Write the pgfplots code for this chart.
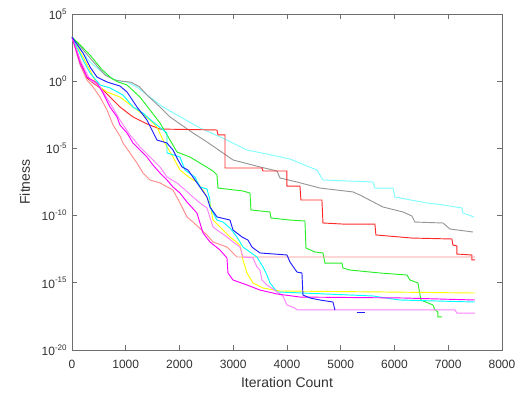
\documentclass[border=0pt]{standalone}
\usepackage{fontspec}
\setmainfont{Liberation Sans}
\usepackage{pgfplots}
\pgfplotsset{compat=1.18}
\definecolor{cLC}{RGB}{128,255,255}
\definecolor{cGR}{RGB}{150,150,150}
\definecolor{cR}{RGB}{255,40,40}
\definecolor{cG}{RGB}{40,240,40}
\definecolor{cSA}{RGB}{255,140,140}
\definecolor{cY}{RGB}{255,255,0}
\definecolor{cB}{RGB}{30,30,255}
\definecolor{cC}{RGB}{0,255,255}
\definecolor{cM}{RGB}{255,0,255}
\definecolor{cP}{RGB}{255,128,255}
\definecolor{axc}{RGB}{110,110,110}
\definecolor{txc}{RGB}{50,50,50}
\begin{document}
\begin{tikzpicture}
\useasboundingbox (-54pt,-35.25pt) rectangle (339pt,262.5pt);
\begin{axis}[
  at={(0,0)}, anchor=south west,
  width=322.5pt, height=252pt, scale only axis,
  xmin=0, xmax=8000, ymin=-20, ymax=5,
  xtick={0,1000,...,8000},
  ytick={-20,-15,-10,-5,0,5},
  yticklabels={10\textsuperscript{-20},10\textsuperscript{-15},10\textsuperscript{-10},10\textsuperscript{-5},10\textsuperscript{0},10\textsuperscript{5}},
  scaled x ticks=false,
  /pgf/number format/1000 sep={},
  /pgf/number format/assume math mode=true,
  tick label style={font=\fontsize{9}{10}\selectfont, text=txc},
  xticklabel style={yshift=-4pt},
  label style={font=\fontsize{10.5}{12}\selectfont, text=txc},
  xlabel={Iteration Count},
  ylabel={Fitness},
  axis line style={axc},
  tick style={axc, line width=0.5pt},
  major tick length=3.5pt,
  minor tick num=0,
  every axis plot/.append style={line width=0.7pt},
  xlabel style={yshift=0pt},
  ylabel style={yshift=2pt},
]
% light cyan
\addplot[cLC] table[x=X,y=L]{
X L
0 3.29
150 2.4
335 1.43
577 0.61
763 0.15
900 0.0
1023 -0.06
1209 -0.43
1451 -1.18
1693 -1.92
1953 -2.51
2381 -3.48
2883 -4.375
3255 -5.12
3627 -5.42
4055 -5.79
4371 -6.31
4557 -6.61
4669 -7.35
5599 -7.5
5636 -7.95
5971 -7.95
6008 -8.62
6603 -9.06
6901 -9.21
7254 -9.43
7273 -9.81
7477 -10.1
};
% gray
\addplot[cGR] table[x=X,y=L]{
X L
0 3.29
150 2.6
335 1.73
614 0.46
800 0.08
950 -0.01
1100 -0.08
1250 -0.4
1395 -1.03
1637 -1.92
1823 -2.66
2251 -3.85
2511 -4.52
2809 -5.34
2995 -5.86
3497 -6.38
3813 -6.68
3869 -7.2
4185 -7.5
4613 -7.95
5227 -8.24
5357 -8.47
5785 -9.36
6157 -9.73
6324 -10.03
6380 -10.48
6901 -10.55
7031 -11.0
7459 -11.22
};
% red
\addplot[cR] table[x=X,y=L]{
X L
0 3.29
149 1.58
279 0.24
391 -0.13
577 -0.65
893 -1.92
1135 -2.66
1395 -3.18
1637 -3.56
2697 -3.63
2716 -4.0
2846 -4.0
2846 -6.46
3534 -6.46
3553 -6.68
3999 -6.68
3999 -7.8
4241 -7.8
4259 -8.84
4650 -8.84
4669 -10.55
5041 -10.63
5636 -10.63
5654 -11.44
6324 -11.67
7068 -11.74
7087 -12.19
7161 -12.26
7161 -12.86
7440 -12.93
7440 -13.3
7496 -13.3
};
% green
\addplot[cG] table[x=X,y=L]{
X L
0 3.29
150 2.7
335 1.95
550 0.9
707 0.31
850 -0.05
1023 -0.28
1265 -1.18
1451 -2.14
1637 -3.11
1823 -4.375
1953 -5.27
2195 -5.64
2381 -6.09
2623 -6.68
2697 -6.98
2716 -7.95
3181 -8.17
3311 -8.32
3329 -9.58
3683 -9.73
3702 -10.18
4055 -10.33
4334 -10.4
4353 -12.41
4520 -12.71
4669 -12.78
4706 -13.53
5022 -13.53
5041 -13.9
5171 -14.05
5729 -14.27
6231 -14.42
6287 -14.79
6436 -15.01
6492 -16.28
6715 -16.65
6752 -17.02
6808 -17.17
6808 -17.54
6882 -17.54
};
% salmon
\addplot[cSA] table[x=X,y=L]{
X L
0 3.29
149 1.21
279 0.09
391 -0.43
521 -1.18
651 -2.14
763 -3.26
893 -4.08
949 -4.6
1079 -5.34
1209 -6.09
1321 -6.83
1451 -7.35
1637 -7.57
1879 -8.1
2009 -9.06
2139 -10.1
2251 -10.48
2511 -11.44
2623 -11.96
2883 -12.34
2976 -12.71
3069 -13.08
7496 -13.08
};
% yellow
\addplot[cY] table[x=X,y=L]{
X L
0 3.29
335 0.83
465 -0.28
651 -0.8
893 -1.18
1209 -2.14
1451 -2.89
1581 -3.41
1693 -4.375
1879 -5.64
2009 -6.61
2195 -7.2
2325 -7.5
2437 -8.1
2567 -9.06
2623 -10.33
2809 -11.07
2939 -11.59
3125 -12.19
3181 -13.3
3255 -14.27
3367 -15.01
3553 -15.39
3869 -15.61
5729 -15.68
7496 -15.76
};
% cyan
\addplot[cC] table[x=X,y=L]{
X L
0 3.29
205 1.58
335 0.61
521 -0.28
707 -0.5
949 -1.03
1135 -1.92
1321 -2.37
1507 -3.04
1767 -3.85
1767 -5.34
2009 -5.64
2102 -6.61
2288 -7.13
2381 -7.87
2511 -8.02
2567 -8.84
2567 -9.36
2697 -10.33
2809 -10.48
2939 -10.92
3069 -11.59
3181 -12.34
3311 -12.71
3441 -13.08
3553 -13.82
3627 -14.42
3683 -15.01
3813 -15.68
5599 -15.98
5971 -16.21
6101 -16.28
7496 -16.43
};
% pink
\addplot[cP] table[x=X,y=L]{
X L
0 3.29
149 1.58
335 0.09
521 -0.43
707 -1.62
893 -2.89
1079 -4.0
1265 -4.9
1451 -5.64
1637 -6.38
1767 -7.13
1953 -7.57
2065 -7.95
2251 -8.62
2381 -9.06
2511 -9.43
2623 -10.85
2753 -11.22
2883 -11.59
2995 -11.96
3125 -12.34
3181 -13.08
3367 -13.15
3441 -13.82
3497 -14.05
3534 -14.79
3627 -15.16
3925 -15.98
3999 -16.65
4148 -16.88
4185 -17.02
7124 -17.02
7161 -17.25
7496 -17.25
};
% magenta
\addplot[cM] table[x=X,y=L]{
X L
0 3.29
149 1.35
279 0.31
465 -0.13
577 -0.88
707 -1.92
837 -2.66
893 -3.26
1023 -3.85
1135 -4.6
1265 -5.12
1395 -5.64
1507 -6.24
1637 -6.83
1767 -7.35
1879 -7.87
2009 -8.32
2139 -8.99
2325 -9.81
2437 -11.29
2567 -11.96
2753 -12.56
2883 -13.15
2902 -14.27
2995 -14.79
3255 -15.16
3497 -15.54
3813 -15.83
4241 -16.06
6157 -16.13
7496 -16.28
};
% blue
\addplot[cB] table[x=X,y=L]{
X L
0 3.29
205 2.1
335 1.06
465 0.31
651 -0.06
893 -0.36
1023 -0.8
1209 -1.92
1395 -2.89
1581 -4.375
1767 -4.6
1879 -5.12
1972 -5.86
2046 -6.38
2158 -6.61
2288 -7.35
2381 -7.87
2511 -8.62
2567 -9.36
2697 -10.1
2939 -10.33
2995 -11.07
3162 -11.59
3274 -11.82
3348 -12.34
3497 -12.78
3999 -12.93
4055 -13.45
4185 -14.2
4278 -14.27
4297 -15.91
4427 -16.13
4613 -16.28
4855 -16.43
4892 -17.02
};
\addplot[cB] table[x=X,y=L]{
X L
5301 -17.17
5450 -17.17
};
\end{axis}
\end{tikzpicture}
\end{document}
